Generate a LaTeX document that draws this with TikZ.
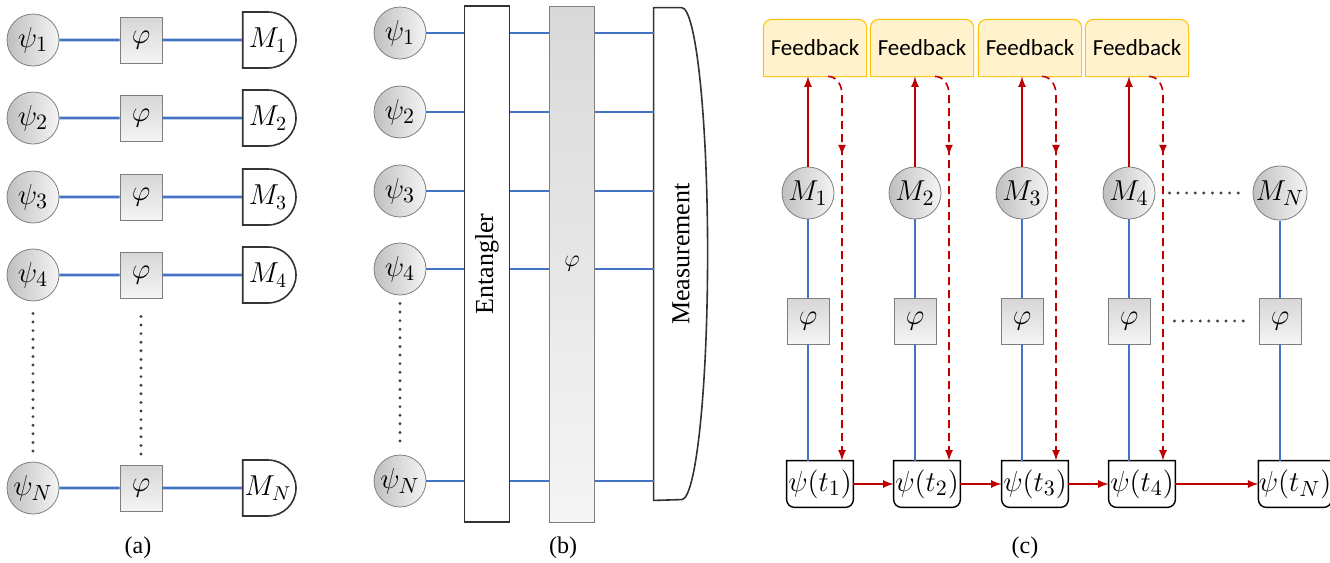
\documentclass[tikz,border=0pt]{standalone}
\usepackage{fontspec}
\setmainfont{Liberation Serif}
\newfontfamily\fbfont{Carlito}
\usetikzlibrary{shapes,arrows,calc,decorations.markings}
\definecolor{wireblue}{HTML}{4472C4}
\definecolor{fbred}{HTML}{C00000}
\definecolor{fbfill}{HTML}{FFF2CC}
\definecolor{fbline}{HTML}{FFC000}
\definecolor{rimgray}{HTML}{7F7F7F}
\definecolor{dotgray}{HTML}{404040}
\newcommand{\toparc}[1]{(#1.south west) -- ([yshift=-4pt]#1.north west)
  arc[start angle=180, end angle=90, radius=4pt] -- ([xshift=-4pt]#1.north east)
  arc[start angle=90, end angle=0, radius=4pt] -- (#1.south east) -- cycle}
\newcommand{\botarc}[1]{(#1.north west) -- ([yshift=4pt]#1.south west)
  arc[start angle=180, end angle=270, radius=4pt] -- ([xshift=-4pt]#1.south east)
  arc[start angle=270, end angle=360, radius=4pt] -- (#1.north east) -- cycle}
\tikzset{
  fbbox/.style={
    minimum width=51pt, minimum height=28pt, inner sep=0pt,
    font=\fbfont\fontsize{11.5}{13}\selectfont,
    path picture={\fill[fbfill] \toparc{path picture bounding box};},
    append after command={\pgfextra{\draw[fbline, line width=0.7pt] \toparc{\tikzlastnode};}}
  },
  psibox/.style={
    minimum width=33pt, minimum height=23pt, inner sep=0pt,
    font=\fontsize{15}{17}\selectfont,
    append after command={\pgfextra{\draw[black, line width=0.7pt] \botarc{\tikzlastnode};}}
  }
}

\begin{document}
\begin{tikzpicture}
  [
    x=0.5pt, y=-0.5pt,
    qubit/.style =
      {circle, draw=rimgray, left color=gray!50, right color=gray!8,
       minimum size=26pt, inner sep=0pt, font=\fontsize{15}{17}\selectfont},
    phase/.style =
      {rectangle, draw=rimgray, top color=gray!32, bottom color=gray!8,
       minimum width=21pt, minimum height=23pt, inner sep=0pt,
       font=\fontsize{15}{17}\selectfont},
    meter/.style =
      {rounded rectangle, rounded rectangle left arc=none, draw=black!80,
       line width=0.8pt, minimum width=26pt, minimum height=28pt,
       inner sep=0.5pt, font=\fontsize{14}{16}\selectfont},
    bar/.style =
      {rectangle, minimum width=22.5pt, minimum height=258pt, inner sep=0pt,
       font=\fontsize{13}{15}\selectfont},
    wire/.style = {wireblue, line width=1.3pt},
    dots/.style = {dotgray, line width=1.6pt, line cap=round, dash pattern=on 0pt off 4.3pt},
    fbarrow/.style = {fbred, line width=0.8pt, -latex},
    fbdash/.style =
      {fbred, line width=0.8pt, dash pattern=on 4pt off 2.5pt, -latex,
       postaction={decorate},
       decoration={markings, mark=at position 0.22 with {\arrow{latex}}}},
    caption/.style = {font=\fontsize{12}{14}\selectfont}
  ]
  \useasboundingbox (0,0) rectangle (1330,563);

  \node [qubit] (aq1) at (33,40)  {$\psi_1$};
  \node [qubit] (aq2) at (33,118) {$\psi_2$};
  \node [qubit] (aq3) at (33,197) {$\psi_3$};
  \node [qubit] (aq4) at (33,275) {$\psi_4$};
  \node [qubit] (aqN) at (33,488) {$\psi_N$};

  \node [phase] (aph1) at (141,40)  {$\varphi$};
  \node [phase] (aph2) at (141,118) {$\varphi$};
  \node [phase] (aph3) at (141,197) {$\varphi$};
  \node [phase] (aph4) at (141,275) {$\varphi$};
  \node [phase] (aphN) at (141,488) {$\varphi$};

  \node [meter] (am1) at (268,40)  {$M_1$};
  \node [meter] (am2) at (268,118) {$M_2$};
  \node [meter] (am3) at (268,197) {$M_3$};
  \node [meter] (am4) at (268,275) {$M_4$};
  \node [meter] (amN) at (268,488) {$M_N$};

  \draw [wire] (aq1) -- (aph1) -- (am1);
  \draw [wire] (aq2) -- (aph2) -- (am2);
  \draw [wire] (aq3) -- (aph3) -- (am3);
  \draw [wire] (aq4) -- (aph4) -- (am4);
  \draw [wire] (aqN) -- (aphN) -- (amN);

  \draw [dots] ([yshift=-6pt]aq4.south)  -- ([yshift=5pt]aqN.north);
  \draw [dots] ([yshift=-9pt]aph4.south) -- ([yshift=5pt]aphN.north);

  \node [caption] (capa) at (138,548) {(a)};

  \node [qubit] (bq1) at (400,33)  {$\psi_1$};
  \node [qubit] (bq2) at (400,112) {$\psi_2$};
  \node [qubit] (bq3) at (400,191) {$\psi_3$};
  \node [qubit] (bq4) at (400,269) {$\psi_4$};
  \node [qubit] (bqN) at (400,481) {$\psi_N$};

  \node [bar, draw=black!80, line width=0.8pt, fill=white] (bent) at (487,264)
    {\rotatebox{90}{Entangler}};
  \node [bar, draw=rimgray, top color=gray!30, bottom color=gray!8] (bphi) at (572,264)
    {$\varphi$};
  \node [bar, minimum width=27pt, minimum height=246pt] (bmeas) at (681,254)
    {\rotatebox{90}{Measurement}};
  \draw [black!80, line width=0.8pt] (bmeas.north west) -- ++(14pt,0)
    arc[start angle=90, end angle=-90, x radius=13pt, y radius=123pt]
    -- (bmeas.south west) -- cycle;

  \draw [wire] (bq1) -- (bq1 -| bent.west) (bq1 -| bent.east) -- (bq1 -| bphi.west)
    (bq1 -| bphi.east) -- (bq1 -| bmeas.west);
  \draw [wire] (bq2) -- (bq2 -| bent.west) (bq2 -| bent.east) -- (bq2 -| bphi.west)
    (bq2 -| bphi.east) -- (bq2 -| bmeas.west);
  \draw [wire] (bq3) -- (bq3 -| bent.west) (bq3 -| bent.east) -- (bq3 -| bphi.west)
    (bq3 -| bphi.east) -- (bq3 -| bmeas.west);
  \draw [wire] (bq4) -- (bq4 -| bent.west) (bq4 -| bent.east) -- (bq4 -| bphi.west)
    (bq4 -| bphi.east) -- (bq4 -| bmeas.west);
  \draw [wire] (bqN) -- (bqN -| bent.west) (bqN -| bent.east) -- (bqN -| bphi.west)
    (bqN -| bphi.east) -- (bqN -| bmeas.west);

  \draw [dots] ([yshift=-4pt]bq4.south) -- ([yshift=6.5pt]bqN.north);

  \node [caption] (capb) at (563,548) {(b)};

  \node [fbbox] (cf1) at (815,48)  {Feedback};
  \node [fbbox] (cf2) at (922,48)  {Feedback};
  \node [fbbox] (cf3) at (1030,48) {Feedback};
  \node [fbbox] (cf4) at (1137,48) {Feedback};

  \node [qubit] (cm1) at (808,193)  {$M_1$};
  \node [qubit] (cm2) at (915,193)  {$M_2$};
  \node [qubit] (cm3) at (1022,193) {$M_3$};
  \node [qubit] (cm4) at (1129,193) {$M_4$};
  \node [qubit] (cmN) at (1280,193) {$M_N$};

  \node [phase] (cph1) at (808,321)  {$\varphi$};
  \node [phase] (cph2) at (915,321)  {$\varphi$};
  \node [phase] (cph3) at (1022,321) {$\varphi$};
  \node [phase] (cph4) at (1129,321) {$\varphi$};
  \node [phase] (cphN) at (1280,321) {$\varphi$};

  \node [psibox] (cp1) at (820,484)  {$\psi(t_1)$};
  \node [psibox] (cp2) at (927,484)  {$\psi(t_2)$};
  \node [psibox] (cp3) at (1035,484) {$\psi(t_3)$};
  \node [psibox] (cp4) at (1142,484) {$\psi(t_4)$};
  \node [psibox, minimum width=34pt] (cpN) at (1295,484) {$\psi(t_N)$};

  \draw [wire] (cm1) -- (cph1) -- (cph1 |- cp1.north);
  \draw [wire] (cm2) -- (cph2) -- (cph2 |- cp2.north);
  \draw [wire] (cm3) -- (cph3) -- (cph3 |- cp3.north);
  \draw [wire] (cm4) -- (cph4) -- (cph4 |- cp4.north);
  \draw [wire] (cmN) -- (cphN) -- (cphN |- cpN.north);

  \draw [fbarrow] (cm1) -- (cm1 |- cf1.south);
  \draw [fbarrow] (cm2) -- (cm2 |- cf2.south);
  \draw [fbarrow] (cm3) -- (cm3 |- cf3.south);
  \draw [fbarrow] (cm4) -- (cm4 |- cf4.south);

  \draw [fbdash] ([xshift=10pt]cm1 |- cf1.south) to[out=0, in=90] ++(7pt,-9pt)
    -- ([xshift=17pt]cm1 |- cp1.north);
  \draw [fbdash] ([xshift=10pt]cm2 |- cf2.south) to[out=0, in=90] ++(7pt,-9pt)
    -- ([xshift=17pt]cm2 |- cp2.north);
  \draw [fbdash] ([xshift=10pt]cm3 |- cf3.south) to[out=0, in=90] ++(7pt,-9pt)
    -- ([xshift=17pt]cm3 |- cp3.north);
  \draw [fbdash] ([xshift=10pt]cm4 |- cf4.south) to[out=0, in=90] ++(7pt,-9pt)
    -- ([xshift=17pt]cm4 |- cp4.north);

  \draw [fbarrow] (cp1) -- (cp2);
  \draw [fbarrow] (cp2) -- (cp3);
  \draw [fbarrow] (cp3) -- (cp4);
  \draw [fbarrow] (cp4) -- (cpN);

  \draw [dots] ([xshift=7pt]cm4.east) -- ([xshift=-5.5pt]cmN.west);
  \draw [dots] ([xshift=12pt]cph4.east) -- ([xshift=-5.5pt]cphN.west);

  \node [caption] (capc) at (1025,548) {(c)};

\end{tikzpicture}
\end{document}
